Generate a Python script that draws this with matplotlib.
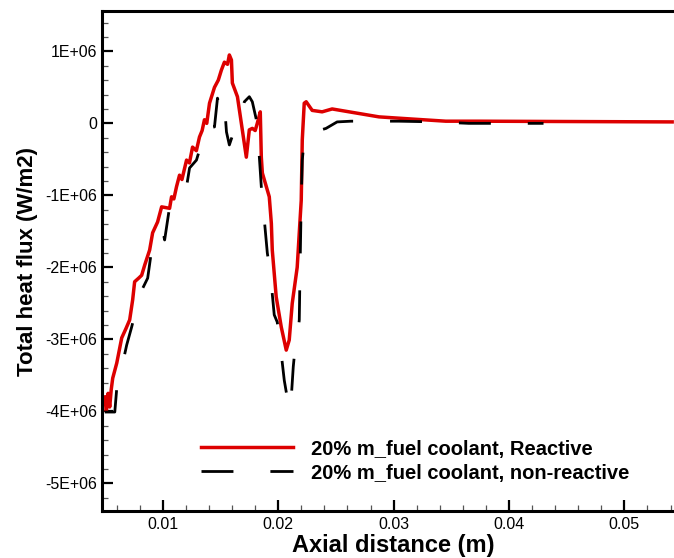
import matplotlib.pyplot as plt
from matplotlib.ticker import MultipleLocator, FuncFormatter

plt.rcParams['font.family'] = ['Liberation Sans', 'DejaVu Sans']

# Reactive case (x in m, heat flux in 1E+06 W/m2)
x_reactive = [0.00496, 0.00510, 0.00525, 0.00539, 0.00552, 0.00565, 0.00600, 0.00643,
              0.00680, 0.00712, 0.00738, 0.00755, 0.00790, 0.00816, 0.00842, 0.00885,
              0.00911, 0.00954, 0.00989, 0.01058, 0.01075, 0.01095, 0.01118, 0.01144,
              0.01165, 0.01205, 0.01230, 0.01257, 0.01290, 0.01317, 0.01340, 0.01360,
              0.01380, 0.01404, 0.01447, 0.01480, 0.01507, 0.01533, 0.01560, 0.01576,
              0.01594, 0.01602, 0.01646, 0.01680, 0.01723, 0.01749, 0.01775, 0.01800,
              0.01818, 0.01844, 0.01853, 0.01862, 0.01922, 0.01940, 0.01948, 0.01982,
              0.02026, 0.02069, 0.02095, 0.02121, 0.02164, 0.02182, 0.02199, 0.02208,
              0.02225, 0.02242, 0.02294, 0.02380, 0.02467, 0.02614, 0.02873, 0.03158,
              0.03452, 0.03737, 0.05414]
q_reactive = [-3.80, -4.00, -3.75, -3.94, -3.70, -3.54, -3.33, -2.98,
              -2.85, -2.73, -2.45, -2.20, -2.15, -2.11, -1.97, -1.76,
              -1.52, -1.37, -1.16, -1.18, -1.02, -1.05, -0.88, -0.72,
              -0.78, -0.51, -0.55, -0.33, -0.38, -0.19, -0.10, 0.05,
              0.00, 0.28, 0.50, 0.60, 0.74, 0.85, 0.82, 0.95,
              0.88, 0.56, 0.37, 0.00, -0.47, -0.09, -0.07, -0.10,
              0.00, 0.16, -0.47, -0.69, -1.02, -1.39, -1.76, -2.41,
              -2.83, -3.15, -3.01, -2.50, -2.00, -1.52, -1.07, -0.23,
              0.28, 0.30, 0.18, 0.16, 0.20, 0.16, 0.09, 0.06,
              0.03, 0.03, 0.02]

# Non-reactive case
x_nonreactive = [0.00496, 0.00583, 0.00600, 0.00652, 0.00686, 0.00729, 0.00781, 0.00816,
                 0.00868, 0.00902, 0.00954, 0.00997, 0.01015, 0.01058, 0.01118, 0.01170,
                 0.01205, 0.01231, 0.01291, 0.01317, 0.01343, 0.01378, 0.01404, 0.01421,
                 0.01447, 0.01473, 0.01507, 0.01533, 0.01551, 0.01576, 0.01620, 0.01663,
                 0.01706, 0.01749, 0.01775, 0.01810, 0.01836, 0.01853, 0.01879, 0.01905,
                 0.01931, 0.01965, 0.01991, 0.02017, 0.02035, 0.02052, 0.02069, 0.02095,
                 0.02113, 0.02130, 0.02147, 0.02164, 0.02182, 0.02190, 0.02199, 0.02208,
                 0.02225, 0.02242, 0.02311, 0.02414, 0.02510, 0.02631, 0.02804, 0.03046,
                 0.03374, 0.03651, 0.04299]
q_nonreactive = [-4.01, -4.01, -3.68, -3.33, -3.08, -2.83, -2.50, -2.32,
                 -2.15, -1.76, -1.55, -1.48, -1.62, -1.16, -1.11, -1.00,
                 -0.88, -0.62, -0.51, -0.37, -0.33, -0.23, -0.26, -0.05,
                 -0.05, 0.35, 0.18, 0.28, -0.12, -0.30, -0.09, 0.02,
                 0.30, 0.37, 0.30, 0.05, -0.47, -0.88, -1.34, -1.80,
                 -2.08, -2.66, -2.76, -3.08, -3.33, -3.57, -3.73, -3.98,
                 -3.80, -3.38, -3.10, -3.01, -2.73, -1.90, -1.07, -0.51,
                 -0.23, -0.14, -0.12, -0.07, 0.02, 0.03, 0.03, 0.03,
                 0.02, 0.00, 0.00]

labels = ['20% m_fuel coolant, Reactive', '20% m_fuel coolant, non-reactive']

fig = plt.figure(figsize=(6.74, 5.58), dpi=100)
ax = fig.add_axes([0.152, 0.0842, 0.848, 0.896])

ax.plot(x_reactive, [v * 1e6 for v in q_reactive], color='#dd0000', lw=2.5,
        label=labels[0], zorder=2)
ax.plot(x_nonreactive, [v * 1e6 for v in q_nonreactive], color='black', lw=2.0,
        linestyle=(0, (11.5, 13.3)), label=labels[1], zorder=3)

ax.set_xlim(0.00476, 0.0543)
ax.set_ylim(-5.385e6, 1.56e6)

# ticks: inward, Tecplot-like
ax.xaxis.set_major_locator(MultipleLocator(0.01))
ax.xaxis.set_minor_locator(MultipleLocator(0.002))
ax.yaxis.set_major_locator(MultipleLocator(1e6))
ax.yaxis.set_minor_locator(MultipleLocator(2e5))
ax.xaxis.set_major_formatter(FuncFormatter(lambda v, p: f'{v:.2f}'))
ax.yaxis.set_major_formatter(FuncFormatter(lambda v, p: '0' if abs(v) < 1 else f'{v:.0E}'))
ax.tick_params(which='both', direction='in', top=False, right=False)
ax.tick_params(which='major', length=8, width=1.6, labelsize=11.5, pad=4)
ax.tick_params(which='minor', length=4.5, width=0.9, color='#555555')

for side in ['left', 'bottom', 'top']:
    ax.spines[side].set_linewidth(2.2)
ax.spines['right'].set_visible(False)

ax.set_xlabel('Axial distance (m)', fontsize=17, fontweight='bold')
ax.xaxis.set_label_coords(0.508, -0.045)
ax.set_ylabel('Total heat flux (W/m2)', fontsize=16, fontweight='bold')
ax.yaxis.set_label_coords(-0.112, 0.5)

ax.legend(loc='center left', bbox_to_anchor=(0.172, 0.1), frameon=False,
          prop={'size': 14.5, 'weight': 'bold'}, handlelength=4.6,
          handletextpad=0.85, labelspacing=0.25, borderpad=0, borderaxespad=0)

fig.savefig('out.png', dpi=100)
